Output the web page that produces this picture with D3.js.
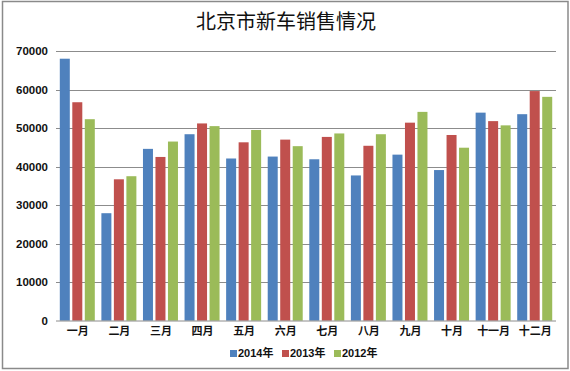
<!DOCTYPE html>
<html><head><meta charset="utf-8">
<script src="https://cdn.jsdelivr.net/npm/d3@7"></script>
<style>html,body{margin:0;padding:0;background:#fff;}svg{display:block;}</style>
</head><body><svg id="c" width="570" height="371"></svg>
<script>
const months = ["一月","二月","三月","四月","五月","六月","七月","八月","九月","十月","十一月","十二月"];
const seriesNames = ["2014年","2013年","2012年"];
const v2014 = [68000,27900,44600,48400,42100,42600,41900,37700,43100,39100,54000,53600];
const v2013 = [56700,36700,42500,51200,46300,47000,47700,45400,51400,48200,51800,59600];
const v2012 = [52300,37500,46500,50500,49500,45300,48600,48400,54200,44900,50700,58100];
const yTicks = [0,10000,20000,30000,40000,50000,60000,70000];
const colors = ["#4F81BD","#C0504D","#9BBB59"];
const title = "北京市新车销售情况";

const values = [v2014, v2013, v2012];
const svg = d3.select("#c");
svg.append("rect").attr("x",2.5).attr("y",1.5).attr("width",565.5).attr("height",367)
  .attr("fill","#fff").attr("stroke","#8a8a8a").attr("stroke-width",1.5);

svg.append("text").attr("x",286).attr("y",29).attr("text-anchor","middle")
  .attr("font-family","'Noto Sans CJK SC'").attr("font-size",20).attr("fill","#111").text(title);

const x0 = d3.scaleBand().domain(months).range([57,556]);
const x1 = d3.scaleBand().domain(seriesNames).range([2.8,37.8]).paddingInner(0.2);
const y = d3.scaleLinear().domain([0,70000]).range([320.7,51]);

const grid = svg.append("g");
grid.selectAll("line").data(yTicks.filter(d=>d>0)).join("line")
  .attr("x1",56).attr("x2",556).attr("y1",d=>Math.round(y(d))+0.5).attr("y2",d=>Math.round(y(d))+0.5)
  .attr("stroke","#8c8c8c").attr("stroke-width",1);

const yAxis = d3.axisLeft(y).tickValues(yTicks).tickSize(0).tickPadding(0).tickFormat(d3.format("d"));
const ga = svg.append("g").attr("transform","translate(48,0)").call(yAxis);
ga.select(".domain").remove();
ga.selectAll("text").attr("font-family","'Liberation Sans', Arial").attr("font-weight","bold")
  .attr("font-size",11.5).attr("fill","#111");

const groups = svg.append("g").selectAll("g").data(months).join("g")
  .attr("transform",d=>`translate(${x0(d)},0)`);
groups.selectAll("rect").data((m,i)=>seriesNames.map((s,k)=>({s,k,v:values[k][i]}))).join("rect")
  .attr("x",d=>x1(d.s)).attr("width",x1.bandwidth())
  .attr("y",d=>y(d.v)).attr("height",d=>y(0)-y(d.v))
  .attr("fill",d=>colors[d.k]);

svg.append("line").attr("x1",56).attr("x2",556).attr("y1",321).attr("y2",321)
  .attr("stroke","#8c8c8c").attr("stroke-width",1);

const xAxis = d3.axisBottom(x0).tickSize(0).tickPadding(0);
const gx = svg.append("g").attr("transform","translate(0,327)").call(xAxis);
gx.select(".domain").remove();
gx.selectAll("text").attr("font-family","'Noto Sans CJK SC'").attr("font-weight","bold")
  .attr("font-size",11).attr("fill","#111").attr("dy","0.71em");

const legX = [230,282,334];
const lg = svg.append("g").selectAll("g").data(seriesNames).join("g")
  .attr("transform",(d,i)=>`translate(${legX[i]},350)`);
lg.append("rect").attr("x",0).attr("y",0).attr("width",7).attr("height",7).attr("fill",(d,i)=>colors[i]);
lg.append("text").attr("x",8).attr("y",3.5).attr("dy","0.35em")
  .attr("font-family","'Liberation Sans','Noto Sans CJK SC'").attr("font-weight","bold")
  .attr("font-size",11).attr("fill","#111").text(d=>d);
</script></body></html>
